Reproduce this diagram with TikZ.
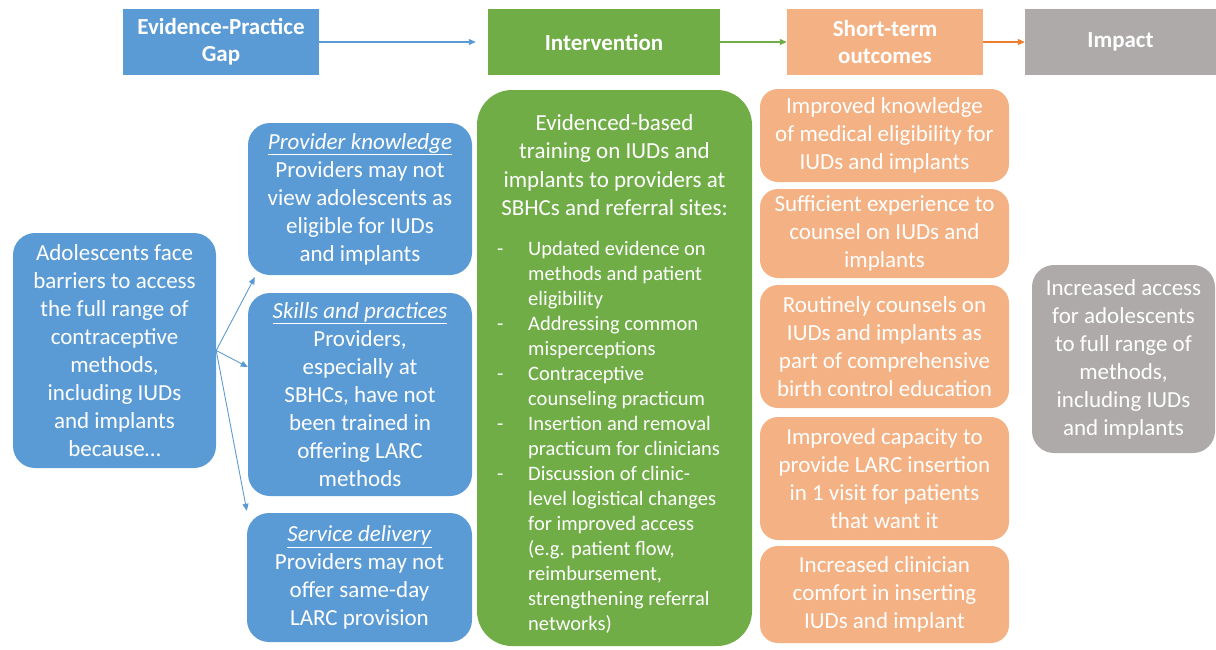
\documentclass[tikz,border=0pt]{standalone}
\usepackage{fontspec}
\setmainfont{Carlito}
\usepackage{tikz}
\usetikzlibrary{arrows.meta}
\definecolor{gapblue}{HTML}{5B9BD5}
\definecolor{intgreen}{HTML}{70AD47}
\definecolor{outorange}{HTML}{F4B183}
\definecolor{arrorange}{HTML}{ED7D31}
\definecolor{impgray}{HTML}{AEAAAA}

\begin{document}
\begin{tikzpicture}[x=1pt,y=-1pt,
  hdr/.style={rectangle,inner sep=0,minimum height=66,text=white,align=center,font=\bfseries\fontsize{23}{27}\selectfont},
  bx/.style={rectangle,rounded corners=22,inner sep=0,text=white,align=center,font=\fontsize{23}{28}\selectfont},
  outbx/.style={bx,fill=outorange,rounded corners=18,minimum width=249},
  arr/.style={-{Triangle[length=7pt,width=6pt]},line width=1.2pt}]
\useasboundingbox (0,0) rectangle (1216,649);

\node[hdr,fill=gapblue,minimum width=196] (gap) at (221,42) {Evidence-Practice\\Gap};
\node[hdr,fill=intgreen,minimum width=232] (int) at (604,42) {Intervention};
\node[hdr,fill=outorange,minimum width=196] (short) at (885,42) {Short-term\\outcomes};
\node[hdr,fill=impgray,minimum width=191] (impact) at (1120.5,42) {Impact};
\draw[arr,gapblue,shorten >=12pt] (gap) -- (int);
\draw[arr,intgreen] (int) -- (short);
\draw[arr,arrorange] (short) -- (impact);

\node[bx,fill=gapblue,minimum width=203,minimum height=235] (adol) at (114.5,350.5)
  {Adolescents face\\barriers to access\\the full range of\\contraceptive\\methods,\\including IUDs\\and implants\\because…};
\node[bx,fill=gapblue,minimum width=224,minimum height=152] (know) at (360,199)
  {\underline{\textit{Provider knowledge}}\\Providers may not\\view adolescents as\\eligible for IUDs\\and implants};
\node[bx,fill=gapblue,minimum width=224,minimum height=203] (skill) at (360,394.5)
  {\underline{\textit{Skills and practices}}\\Providers,\\especially at\\SBHCs, have not\\been trained in\\offering LARC\\methods};
\node[bx,fill=gapblue,minimum width=225,minimum height=129] (serv) at (359.5,577.5)
  {\underline{\textit{Service delivery}}\\Providers may not\\offer same-day\\LARC provision};

\coordinate (t1) at ([xshift=7pt,yshift=-2pt]know.south west);
\coordinate (t2) at ([yshift=27.5pt]skill.west);
\coordinate (t3) at ([yshift=2pt]serv.north west);
\draw[arr,gapblue,line width=0.9pt] (adol.east) -- (t1);
\draw[arr,gapblue,line width=0.9pt] (adol.east) -- (t2);
\draw[arr,gapblue,line width=0.9pt] (adol.east) -- (t3);

\node[bx,fill=intgreen,rounded corners=35,minimum width=275,minimum height=556] (train) at (614.5,368) {};
\node[text=white,align=center,inner sep=0,font=\fontsize{23}{28.5}\selectfont] (trainhead) at (614.5,165)
  {Evidenced-based\\training on IUDs and\\implants to providers at\\SBHCs and referral sites:};
\node[text=white,anchor=north west,inner sep=0,font=\fontsize{20.5}{25}\selectfont] (trainlist) at (497,238)
  {\begin{tabular}{@{}p{31pt}@{}l@{}}
  - & Updated evidence on\\ & methods and patient\\ & eligibility\\
  - & Addressing common\\ & misperceptions\\
  - & Contraceptive\\ & counseling practicum\\
  - & Insertion and removal\\ & practicum for clinicians\\
  - & Discussion of clinic-\\ & level logistical changes\\ & for improved access\\
    & (e.g. patient flow,\\ & reimbursement,\\ & strengthening referral\\ & networks)
  \end{tabular}};

\node[outbx,minimum height=93] (out1) at (884.5,135.5) {Improved knowledge\\of medical eligibility for\\IUDs and implants};
\node[outbx,minimum height=89] (out2) at (884.5,233.5) {Sufficient experience to\\counsel on IUDs and\\implants};
\node[outbx,minimum height=123] (out3) at (884.5,346.5) {Routinely counsels on\\IUDs and implants as\\part of comprehensive\\birth control education};
\node[outbx,minimum height=123] (out4) at (884.5,478.5) {Improved capacity to\\provide LARC insertion\\in 1 visit for patients\\that want it};
\node[outbx,minimum height=97] (out5) at (884.5,594.5) {Increased clinician\\comfort in inserting\\IUDs and implant};

\node[bx,fill=impgray,minimum width=183,minimum height=188] (imp) at (1123.5,359)
  {Increased access\\for adolescents\\to full range of\\methods,\\including IUDs\\and implants};
\end{tikzpicture}
\end{document}
